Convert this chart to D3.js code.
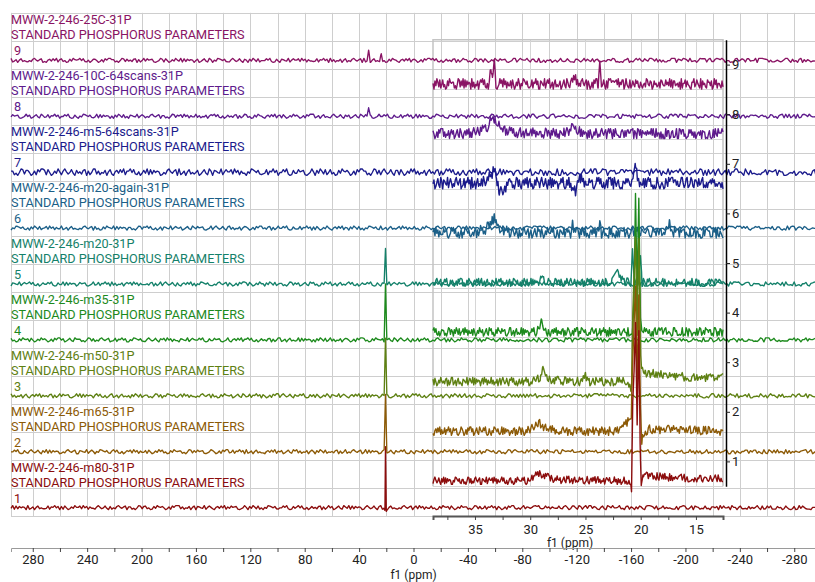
<!DOCTYPE html>
<html><head><meta charset="utf-8">
<script src="https://cdn.jsdelivr.net/npm/d3@7"></script>
<style>
html,body{margin:0;padding:0;background:#fff;}
svg{display:block;font-family:Roboto,"Noto Sans",sans-serif;}
</style></head><body>
<svg id="chart" width="815" height="582"></svg>
<script>
// Stacked 31P spectra, listed bottom trace first
const traceNumbers = [1, 2, 3, 4, 5, 6, 7, 8, 9];
const traceNames = [
  "MWW-2-246-m80-31P", "MWW-2-246-m65-31P", "MWW-2-246-m50-31P",
  "MWW-2-246-m35-31P", "MWW-2-246-m20-31P", "MWW-2-246-m20-again-31P",
  "MWW-2-246-m5-64scans-31P", "MWW-2-246-10C-64scans-31P", "MWW-2-246-25C-31P"
];
const traceSubtitle = "STANDARD PHOSPHORUS PARAMETERS";
const traceColors = ["#8c0d0d", "#8c5a06", "#5e8012", "#1d8a1d", "#14816a",
                     "#1b5f88", "#1b1b8c", "#5e1a8c", "#8a1464"];

// Axis ticks (ppm)
const mainTickLabels = [280, 240, 200, 160, 120, 80, 40, 0, -40, -80, -120, -160, -200, -240, -280];
const mainMinorTicks = [260, 220, 180, 140, 100, 60, 20, -20, -60, -100, -140, -180, -220, -260];
const insetTickLabels = [35, 30, 25, 20, 15];
const insetMinorTicks = [37.5, 32.5, 27.5, 22.5, 17.5];
const insetYTicks = [1, 2, 3, 4, 5, 6, 7, 8, 9];

// Full-range window: baseline noise samples (digits 0-9, centred on 4.5)
const mainNoise = [
  "391827465091360582422381659470718402639558294716331695248307142795368066130498278240173965740261859992614370580764391585205738491638567102495073962814053986472144859201736948215037352780614947025831963918274650169524830791360582421427953680582947163382401739657184026395661304982723816594707402618599314159265358979323846264338327950288419716939937510582097494459230781640628620899862803482534211706798214808651328230664709384460955058223172535940812848111745028410270193852110555",
  "448592017316952483073918274650142795368007643915850539864721694821503758294716337184026395824017396566130498273856710249740261859923816594709136058242205738491647025831969261437058507396281435278061491427953680391827465016952483074485920173076439158571840263955829471633694821503705398647216613049827964462294895493038196442881097566593344612847564823378678316527120190914564856692346034861045432664821339360726024914127372458700660631558817488152092096282925409171536436789259036",
  "926143705820573849163527806149385671024939182746506948215037913605824250739628146613049827053986472158294716331427953680824017396547025831962381659470740261859916952483074485920173718402639507643915852057384916391827465038567102493527806149694821503792614370585073962814913605824205398647216613049827271828182845904523536028747135266249775724709369995957496696762772407663035354759457138217852516642742746639193200305992181741359662904357290033429526059563073813232862794349076323",
  "824017396571840263957402618599470258319666130498271427953680238165947005398647211695248307582947163307643915854485920173385671024920573849166948215037352780614991360582423918274650507396281492614370587402618599824017396547025831961695248307238165947014279536807184026395661304982705398647215829471633141421356237309504880168872420969807856967187537694807317667973799073247846210703885038753432764157273501384623091229702492483605585073721264412149709993583141322266592750559275579",
  "076439158569482150374485920173391827465038567102492381659470926143705858294716333527806149169524830720573849160539864721142795368074026185997184026395507396281466130498274702583196824017396591360582426948215037448592017307643915853856710249391827465058294716332381659470352780614992614370582057384916173205080756887729352744634150587236694280525381038062805580697945193301690880003708114618675724857567562614141540670302996994509499895247881165551209437364852809323190230558206797",
  "053986472150739628145829471633913605824214279536808240173965391827465066130498276948215037076439158547025831963856710249169524830792614370587402618599352780614944859201732381659470718402639520573849165073962814053986472191360582425829471633824017396514279536806613049827391827465007643915856948215037223606797749978969640917366873127623544061835961152572427089724541052092563780489941441440837878227496950817615077378350161803398874989484820458683436563811772030917980576286213544",
  "661304982774026185997184026395169524830735278061499261437058205738491669482150373918274650142795368091360582424702583196076439158558294716330539864721238165947044859201733856710249507396281482401739657402618599661304982716952483077184026395926143705835278061496948215037205738491614279536803918274650577215664901532860606512090082402431042159335939923598805767234884867726777664670936947063291746749514631447249807082480693147180559945309417232121458176568075500134360255254120680",
  "385671024947025831962381659470448592017305398647213918274650507396281407643915851427953680661304982758294716339261437058694821503735278061498240173965205738491671840263957402618599913605824216952483074702583196385671024944859201732381659470391827465005398647210764391585507396281466130498271427953680230258509299404568401799145468436420760110148862877297603332790096757260967735248023599720508959829834196778404228624863318309886183790671537767526745028724068919291480912897495334",
  "913605824214279536802057384916824017396569482150377402618599661304982735278061493856710249718402639539182746504702583196053986472116952483075073962814448592017307643915855829471633238165947092614370581427953680913605824282401739652057384916740261859969482150373527806149661304982771840263953856710249915965594177219015054603514932384110774149374281672134266498120205690315959428539973816151144999076498629234049888179227986960440108935861883449099987615113531369940724079062641334"
];
const mainNoiseLevel = [1, 1, 1, 1, 1, 1, 1.6, 1, 1];

// Expanded window (38.8 to 12.55 ppm): noise samples and relative noise level
const insetNoise = [
  "169524830739182746500539864721661304982714279536800764391585582947163369482150378240173965448592017323816594707402618599718402639547025831969136058242385671024920573849169261437058648213393607260249141273724587006606315588174881520920962829254091715364367892590360011330530548820466521384146951941511",
  "205738491623816594703856710249740261859947025831964485920173053986472139182746503527806149718402639516952483079136058242582947163314279536806613049827694821503707643915855073962814609433057270365759591953092186117381932611793105118548074462379962749567351885752724891227938183011949129833673362440656",
  "718402639535278061499136058242076439158539182746505829471633926143705816952483076948215037238165947014279536800539864721740261859966130498273856710249205738491647025831964485920173643086021394946395224737190702179860943702770539217176293176752384674818467669405132000568127145263560827785771342757789",
  "694821503766130498275073962814582947163371840263954702583196824017396538567102499136058242391827465044859201731695248307205738491635278061497402618599053986472114279536802381659470609173637178721468440901224953430146549585371050792279689258923542019956112129021960864034418159813629774771309960518707",
  "142795368044859201737402618599824017396520573849169136058242076439158592614370580539864721507396281439182746503856710249661304982771840263951695248307352780614958294716334702583196211349999998372978049951059731732816096318595024459455346908302642522308253344685035261931188171010003137838752886587533",
  "582947163338567102496948215037053986472135278061496613049827391827465023816594701695248307142795368047025831967184026395448592017307643915857402618599507396281420573849169136058242208381420617177669147303598253490428755468731159562863882353787593751957781857780532171226806613001927876611195909216420",
  "470258319607643915851427953680238165947091360582427184026395507396281474026185996613049827205738491682401739651695248307391827465044859201739261437058582947163338567102496948215037198938095257201065485863278865936153381827968230301952035301852968995773622599413891249721775283479131515574857242454150",
  "740261859992614370584702583196205738491616952483073856710249448592017335278061496948215037913605824258294716336613049827507396281407643915850539864721391827465071840263951427953680695950829533116861727855889075098381754637464939319255060400927701671139009848824012858361603563707660104710181942955596",
  "507396281482401739656613049827391827465092614370586948215037385671024958294716337184026395053986472123816594700764391585913605824247025831962057384916142795368074026185991695248307198967767849264880394218137428572163145298437602745236187433846392817734526091558274310669248531907452186637029481553172"
];
const insetNoiseLevel = [0.7, 0.8, 0.8, 0.8, 0.75, 1.0, 1.1, 0.95, 1.0];

// Signal features as [ppm, intensity] control points (full-range window, trace-spacing units)
const mainPeaks = [
  [[21.8, 0], [21.0, -0.06], [20.6, 1.08], [20.0, -0.08], [19.3, 0]],
  [[21.6, 0], [20.6, 1.02], [19.6, 0]],
  [[21.6, 0], [20.6, 1.02], [19.6, 0]],
  [[21.6, 0], [20.6, 1.02], [19.6, 0]],
  [[21.6, 0], [20.6, 0.64], [19.6, 0]],
  [],
  [],
  [[34.2, 0], [33.0, 0.14], [31.8, 0]],
  [[34.2, 0], [33.0, 0.17], [31.8, 0], [24.9, 0], [23.7, 0.09], [22.5, 0]]
];

// Signal features in the expanded window (inset axis units)
const insetPeaks = [
  [[30.3, 0], [29.5, 0.1], [29.2, 0.17], [28.9, 0.12], [28.3, 0.06], [27.5, 0.02], [21.3, 0], [20.95, -0.05],
   [20.83, -0.18], [20.72, 1.6], [20.6, 2.2], [20.47, 3.15], [20.32, 1.2], [20.17, 3.0], [20.05, 0.8],
   [19.95, -0.12], [19.8, 0.14], [19.3, 0.1], [17, 0.06], [12.5, 0.04]],
  [[30.3, 0], [29.6, 0.08], [29.3, 0.18], [29.0, 0.12], [28.4, 0.05], [27.6, 0], [22.6, 0], [21.6, 0.08],
   [21.1, 0.2], [20.85, 0.35], [20.72, 1.5], [20.47, 2.9], [20.32, 1.0], [20.17, 2.7], [20.02, 0.4],
   [19.9, -0.2], [19.7, -0.05], [19.2, 0.04], [12.5, 0]],
  [[29.7, 0], [29.1, 0.1], [28.85, 0.22], [28.5, 0.08], [27.8, 0.02], [25.4, 0], [25.0, 0.1], [24.6, 0],
   [21.4, 0], [21.0, -0.1], [20.82, -0.15], [20.72, 1.4], [20.47, 2.95], [20.32, 1.0], [20.17, 2.8],
   [20.0, 0.5], [19.85, 0.2], [19.6, 0.18], [17, 0.1], [12.5, 0.08]],
  [[29.5, 0], [29.0, 0.18], [28.6, 0], [20.75, 0], [20.6, 0.6], [20.47, 2.82], [20.32, 0.8], [20.17, 2.78],
   [20.02, 0.3], [19.9, 0]],
  [[29.3, 0], [28.9, 0.1], [28.5, 0], [22.6, 0], [22.1, 0.18], [21.6, 0.02], [20.9, 0], [20.74, 0.6],
   [20.6, 0.05], [20.17, 0.05], [20.02, 0.6], [19.88, 0]],
  [[35.0, 0], [34.0, 0.08], [33.5, 0.2], [33.25, 0.3], [33.0, 0.15], [32.4, 0.04], [31.5, 0], [26.35, 0],
   [26.17, 0.22], [26.0, 0], [23.85, 0], [23.7, 0.28], [23.55, 0], [20.6, 0], [20.45, 0.1], [20.3, 0],
   [17.6, 0], [17.4, 0.16], [17.2, 0]],
  [[34.6, 0], [33.6, 0.12], [33.3, 0.3], [33.05, 0.05], [32.8, -0.15], [32.3, -0.1], [31.7, 0], [26.5, 0],
   [25.9, -0.14], [25.5, 0.08], [25.0, 0], [20.7, 0], [20.5, 0.36], [20.3, 0.1], [20.05, 0]],
  [[35.3, 0], [34.4, 0.08], [33.8, 0.15], [33.45, 0.32], [33.25, 0.2], [33.0, 0.26], [32.6, 0.1],
   [31.7, 0.02], [27, 0], [26.1, 0.12], [25.3, 0]],
  [[33.75, 0], [33.56, 0.32], [33.42, 0.05], [33.26, 0.45], [33.1, 0], [26.6, 0], [26.0, 0.1], [25.4, 0],
   [23.85, 0], [23.7, 0.36], [23.55, 0]]
];

// ---------------------------------------------------------------- layout
const svg = d3.select("#chart");
const mainDomain = [296, -296];
const x = d3.scaleLinear().domain(mainDomain).range([11, 816]);
const y = d3.scaleLinear().domain([0.85, 9.865]).range([516, 12]);
const insetDomain = [38.8, 12.55];
const ix = d3.scaleLinear().domain(insetDomain).range([433, 723]);
const iy = d3.scaleLinear().domain([0.5, 9.5]).range([486.2, 39.8]);
const insetOffset = -0.39;
const mainAmp = 0.036, insetAmp = 0.105;

// merge noise samples with the feature control points, then add the feature profile
function buildTrace(noise, level, amp, profile, domain) {
  const n = noise.length;
  const step = (domain[1] - domain[0]) / (n - 1);
  const lo = Math.min(domain[0], domain[1]), hi = Math.max(domain[0], domain[1]);
  const pts = d3.range(n).map(k => ({ppm: domain[0] + k * step, k}));
  profile.forEach(p => {
    if (p[0] >= lo && p[0] <= hi) pts.push({ppm: p[0], k: Math.round((p[0] - domain[0]) / step)});
  });
  pts.sort((a, b) => b.ppm - a.ppm);
  const prof = profile.length
    ? d3.scaleLinear().domain(profile.map(p => p[0])).range(profile.map(p => p[1])).clamp(true)
    : () => 0;
  return pts.map(p => {
    const d = +noise[Math.max(0, Math.min(n - 1, p.k))];
    return {ppm: p.ppm, v: prof(p.ppm) + (d - 4.5) / 4.5 * amp * level};
  });
}

// ---------------------------------------------------------------- grid
const grid = svg.append("g").attr("stroke", "#cecece").attr("stroke-width", 1);
[mainDomain[0]].concat(mainTickLabels, mainMinorTicks).forEach(v => {
  const xx = Math.round(x(v)) + 0.5;
  grid.append("line").attr("x1", xx).attr("x2", xx).attr("y1", y(9.85)).attr("y2", y(0.85));
});
d3.range(0.85, 9.9, 0.5).forEach(v => {
  const yy = Math.round(y(v)) + 0.5;
  grid.append("line").attr("x1", x(mainDomain[0])).attr("x2", 815).attr("y1", yy).attr("y2", yy);
});

// inset frame and grid
const igrid = svg.append("g").attr("stroke", "#d6d6d6").attr("stroke-width", 1);
insetTickLabels.forEach(v => {
  const xx = Math.round(ix(v)) + 0.5;
  igrid.append("line").attr("x1", xx).attr("x2", xx).attr("y1", iy(9.5)).attr("y2", iy(0.5));
});
d3.range(0.5, 9, 1).forEach(v => {
  const yy = Math.round(iy(v)) + 0.5;
  igrid.append("line").attr("x1", ix(insetDomain[0])).attr("x2", ix(insetDomain[1])).attr("y1", yy).attr("y2", yy);
});
svg.append("path")
  .attr("d", `M${ix(insetDomain[0])},${iy(0.5)}V${iy(9.5)}H${ix(insetDomain[1])}V${iy(0.5)}`)
  .attr("stroke", "#c4c4c4").attr("stroke-width", 1.5).attr("fill", "none");

// ---------------------------------------------------------------- full-range traces
traceNumbers.forEach((t, i) => {
  const data = buildTrace(mainNoise[i], mainNoiseLevel[i], mainAmp, mainPeaks[i], mainDomain);
  svg.append("path")
    .attr("d", d3.line().x(d => x(d.ppm)).y(d => y(t + d.v))(data))
    .attr("fill", "none").attr("stroke", traceColors[i]).attr("stroke-width", 1.35)
    .attr("stroke-linejoin", "round");
});

// trace captions
const captions = svg.append("g").attr("font-size", 12.7);
traceNumbers.forEach((t, i) => {
  const yb = y(t);
  const g = captions.append("g").attr("fill", traceColors[i]);
  g.append("text").attr("x", 11).attr("y", yb - 36).text(traceNames[i]);
  g.append("text").attr("x", 11).attr("y", yb - 21).text(traceSubtitle);
  g.append("text").attr("x", 14).attr("y", yb - 5).text(t);
});

// ---------------------------------------------------------------- expanded traces
traceNumbers.slice().reverse().forEach(t => {
  const i = t - 1;
  const data = buildTrace(insetNoise[i], insetNoiseLevel[i], insetAmp, insetPeaks[i], insetDomain);
  svg.append("path")
    .attr("d", d3.line().x(d => ix(d.ppm)).y(d => iy(t + insetOffset + d.v))(data))
    .attr("fill", "none").attr("stroke", traceColors[i]).attr("stroke-width", 1.4)
    .attr("stroke-linejoin", "round");
});

// inset axes
const iyAxis = svg.append("g").attr("transform", "translate(726,0)")
  .call(d3.axisRight(iy).tickValues(insetYTicks).tickSize(4).tickSizeOuter(0).tickPadding(2).tickFormat(d => d));
iyAxis.select(".domain").attr("stroke", "#000").attr("stroke-width", 1.5);
iyAxis.selectAll("text").attr("font-size", 13).attr("fill", "#222").attr("font-family", "Roboto");
iyAxis.selectAll("line").attr("stroke", "#222");

const ixAxis = svg.append("g").attr("transform", "translate(0,516)")
  .call(d3.axisBottom(ix).tickValues(insetTickLabels.concat(insetMinorTicks)).tickSizeOuter(0)
    .tickSize(4).tickPadding(5).tickFormat(d => insetTickLabels.includes(d) ? String(d) : ""));
ixAxis.select(".domain").attr("stroke", "#555").attr("stroke-width", 2);
ixAxis.selectAll("text").attr("font-size", 13).attr("fill", "#222").attr("font-family", "Roboto");
ixAxis.selectAll(".tick line").attr("stroke", "#444");
svg.append("text").attr("x", 570).attr("y", 547).attr("text-anchor", "middle")
  .attr("font-size", 12).attr("fill", "#222").text("f1 (ppm)");

// ---------------------------------------------------------------- full-range axis
const xAxis = svg.append("g").attr("transform", "translate(0,548)")
  .call(d3.axisBottom(x).tickValues(mainTickLabels.concat(mainMinorTicks)).tickSizeOuter(0)
    .tickSize(4).tickPadding(3).tickFormat(d => mainTickLabels.includes(d) ? String(d) : ""));
xAxis.select(".domain").attr("stroke", "#9a9a9a").attr("stroke-width", 1);
xAxis.selectAll(".tick line").attr("stroke", "#444");
xAxis.selectAll("text").attr("font-size", 13).attr("fill", "#222").attr("font-family", "Roboto");
svg.append("text").attr("x", x(0)).attr("y", 578.5).attr("text-anchor", "middle")
  .attr("font-size", 12).attr("fill", "#222").text("f1 (ppm)");
</script>
</body></html>
